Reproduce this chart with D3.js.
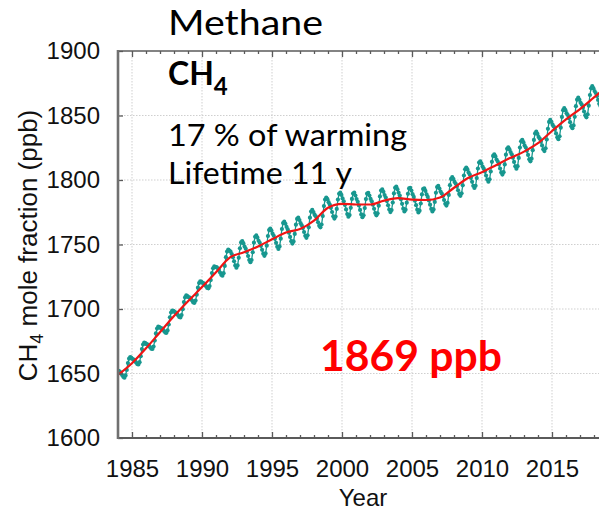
<!DOCTYPE html>
<html>
<head>
<meta charset="utf-8">
<script src="https://cdn.jsdelivr.net/npm/d3@7"></script>
<style>
  html, body { margin: 0; padding: 0; background: #fff; }
  svg { display: block; }
</style>
</head>
<body>
<svg id="chart" width="599" height="512"></svg>
<script>
// Global mean CH4 mole fraction, monthly means (ppb), January 1984 onwards
const firstYear = 1984;
const monthlyCH4 = [
  1652.1, 1651.5, 1650.4, 1648.9, 1647.4, 1646.8, 1648.5, 1652.8, 1658.1, 1661.5, 1662.8, 1662.1,
  1661.2, 1660.8, 1659.9, 1658.6, 1657.3, 1657.0, 1658.8, 1663.4, 1668.9, 1672.5, 1674.0, 1673.5,
  1672.7, 1672.5, 1671.6, 1670.4, 1669.2, 1669.0, 1670.9, 1675.5, 1681.1, 1684.8, 1686.3, 1686.0,
  1685.2, 1685.0, 1684.1, 1682.9, 1681.7, 1681.5, 1683.4, 1688.0, 1693.6, 1697.3, 1698.8, 1698.5,
  1697.7, 1697.3, 1696.4, 1695.1, 1693.8, 1693.5, 1695.3, 1699.9, 1705.4, 1709.0, 1710.5, 1710.0,
  1709.1, 1708.8, 1707.8, 1706.5, 1705.1, 1704.8, 1706.5, 1711.1, 1716.5, 1720.1, 1721.5, 1721.1,
  1720.2, 1719.8, 1718.9, 1717.6, 1716.3, 1716.0, 1717.8, 1722.4, 1727.9, 1731.5, 1733.0, 1732.5,
  1732.5, 1731.6, 1730.3, 1728.3, 1726.5, 1725.8, 1727.8, 1733.4, 1740.2, 1744.5, 1746.1, 1745.3,
  1744.4, 1742.6, 1740.1, 1737.0, 1733.8, 1732.0, 1733.8, 1739.7, 1747.0, 1751.6, 1752.6, 1750.8,
  1748.4, 1746.7, 1744.2, 1741.1, 1738.0, 1736.3, 1738.0, 1744.0, 1751.4, 1756.0, 1757.0, 1755.3,
  1752.9, 1751.3, 1749.0, 1745.9, 1742.9, 1741.2, 1743.1, 1749.1, 1756.6, 1761.2, 1762.4, 1760.8,
  1758.4, 1756.8, 1754.4, 1751.3, 1748.3, 1746.6, 1748.5, 1754.5, 1762.0, 1766.6, 1767.7, 1766.1,
  1763.6, 1761.7, 1759.2, 1755.9, 1752.6, 1750.7, 1752.4, 1758.2, 1765.4, 1769.8, 1770.8, 1768.9,
  1766.5, 1764.9, 1762.7, 1759.7, 1756.7, 1755.2, 1757.1, 1763.3, 1770.8, 1775.5, 1776.8, 1775.2,
  1773.1, 1771.9, 1769.9, 1767.2, 1764.6, 1763.3, 1765.5, 1772.0, 1779.8, 1784.8, 1786.4, 1785.1,
  1782.8, 1781.0, 1778.4, 1775.2, 1771.9, 1770.1, 1771.7, 1777.6, 1784.8, 1789.3, 1790.2, 1788.4,
  1785.7, 1783.5, 1780.7, 1777.2, 1773.6, 1771.5, 1772.8, 1778.4, 1785.3, 1789.5, 1790.2, 1788.0,
  1785.2, 1783.1, 1780.3, 1776.8, 1773.3, 1771.2, 1772.6, 1778.2, 1785.2, 1789.4, 1790.1, 1788.0,
  1785.3, 1783.5, 1780.9, 1777.7, 1774.4, 1772.6, 1774.2, 1780.1, 1787.3, 1791.8, 1792.7, 1790.9,
  1788.3, 1786.4, 1783.7, 1780.4, 1777.1, 1775.1, 1776.7, 1782.5, 1789.6, 1794.0, 1794.9, 1792.9,
  1790.2, 1787.9, 1785.0, 1781.5, 1777.8, 1775.6, 1777.0, 1782.4, 1789.3, 1793.5, 1794.0, 1791.8,
  1789.0, 1786.9, 1784.0, 1780.5, 1777.0, 1774.9, 1776.2, 1781.8, 1788.8, 1793.0, 1793.6, 1791.5,
  1788.8, 1786.9, 1784.2, 1780.9, 1777.6, 1775.6, 1777.2, 1783.0, 1790.1, 1794.5, 1795.4, 1793.4,
  1791.0, 1789.5, 1787.4, 1784.5, 1781.6, 1780.2, 1782.2, 1788.4, 1796.0, 1800.8, 1802.2, 1800.7,
  1798.5, 1797.0, 1794.9, 1792.0, 1789.1, 1787.7, 1789.7, 1795.9, 1803.5, 1808.3, 1809.7, 1808.2,
  1805.9, 1804.2, 1801.7, 1798.6, 1795.5, 1793.8, 1795.5, 1801.5, 1808.9, 1813.5, 1814.5, 1812.8,
  1810.4, 1808.8, 1806.5, 1803.4, 1800.4, 1798.7, 1800.6, 1806.6, 1814.1, 1818.7, 1819.9, 1818.3,
  1815.9, 1814.3, 1812.0, 1808.9, 1805.9, 1804.2, 1806.1, 1812.1, 1819.6, 1824.2, 1825.4, 1823.8,
  1821.7, 1819.9, 1817.3, 1814.0, 1810.6, 1808.8, 1810.7, 1817.1, 1825.1, 1830.0, 1831.2, 1829.3,
  1826.8, 1825.1, 1822.6, 1819.4, 1816.1, 1814.5, 1816.5, 1823.1, 1831.1, 1836.1, 1837.5, 1835.7,
  1833.4, 1832.0, 1829.7, 1826.8, 1823.8, 1822.4, 1824.6, 1831.4, 1839.7, 1845.0, 1846.6, 1845.1,
  1842.9, 1841.4, 1839.1, 1836.1, 1833.1, 1831.6, 1833.9, 1840.6, 1848.9, 1854.1, 1855.7, 1854.1,
  1851.8, 1850.3, 1847.9, 1844.8, 1841.7, 1840.2, 1842.3, 1849.0, 1857.2, 1862.3, 1863.8, 1862.2,
  1859.9, 1858.4, 1856.1, 1853.1, 1850.1, 1848.6, 1850.9, 1857.6, 1865.9, 1871.1, 1872.7, 1871.1,
  1868.9, 1867.4, 1865.1, 1862.1, 1859.1, 1857.6, 1859.9, 1866.6, 1874.9, 1880.1, 1881.7, 1880.1
];

// De-seasonalised trend (ppb) at the start of each year
const trendYears = [1984, 1985, 1986, 1987, 1988, 1989, 1990, 1991, 1992, 1993, 1994, 1995,
  1996, 1997, 1998, 1999, 2000, 2001, 2002, 2003, 2004, 2005, 2006, 2007, 2008, 2009, 2010,
  2011, 2012, 2013, 2014, 2015, 2016, 2017, 2018, 2019];
const trendValues = [1649, 1658, 1669.5, 1682, 1694.5, 1706, 1717, 1728.5, 1740, 1744, 1748.5, 1754,
  1759.3, 1762, 1768.5, 1778.5, 1781.5, 1781, 1781, 1784, 1786, 1784.8, 1784.5, 1786.5, 1794, 1801.5, 1806,
  1811.5, 1817, 1822, 1828.5, 1838, 1847, 1855, 1864, 1873];

const xTicks = [1985, 1990, 1995, 2000, 2005, 2010, 2015];
const xMinorTicks = [1986, 1987, 1988, 1989, 1991, 1992, 1993, 1994, 1996, 1997, 1998, 1999,
  2001, 2002, 2003, 2004, 2006, 2007, 2008, 2009, 2011, 2012, 2013, 2014, 2016, 2017, 2018];
const yTicks = [1600, 1650, 1700, 1750, 1800, 1850, 1900];
const yGrid = [1650, 1700, 1750, 1800, 1850];

const svg = d3.select("#chart");
svg.append("rect").attr("width", 599).attr("height", 512).attr("fill", "#fff");

const plotLeft = 118, plotRight = 608, plotTop = 51, plotBottom = 438;
const x = d3.scaleLinear().domain([1984, 2019]).range([plotLeft, plotRight]);
const y = d3.scaleLinear().domain([1600, 1900]).range([plotBottom, plotTop]);

const tickFont = "'Liberation Sans', Arial, Helvetica, sans-serif";
const textFont = "Lato, Carlito, Calibri, 'Open Sans', sans-serif";
const axisColor = "#5a5a5a";

// dotted grid
const grid = svg.append("g").attr("stroke", "#cfcfcf").attr("stroke-width", 1)
  .attr("stroke-dasharray", "1.5,1.5");
grid.selectAll("line.v").data(xTicks).join("line").attr("class", "v")
  .attr("x1", d => x(d)).attr("x2", d => x(d))
  .attr("y1", plotTop).attr("y2", plotBottom);
grid.selectAll("line.h").data(yGrid).join("line").attr("class", "h")
  .attr("x1", plotLeft).attr("x2", plotRight)
  .attr("y1", d => y(d)).attr("y2", d => y(d));

// clip for data
svg.append("clipPath").attr("id", "plotClip").append("rect")
  .attr("x", plotLeft).attr("y", plotTop)
  .attr("width", plotRight - plotLeft).attr("height", plotBottom - plotTop);

const monthly = monthlyCH4.map((v, i) => ({ t: firstYear + (i + 0.5) / 12, v }));
const trend = trendYears.map((t, i) => ({ t, v: trendValues[i] }));

const dataG = svg.append("g").attr("clip-path", "url(#plotClip)");
const teal = "#17978f";
dataG.append("path")
  .datum(monthly)
  .attr("fill", "none").attr("stroke", teal).attr("stroke-width", 1.3)
  .attr("d", d3.line().x(d => x(d.t)).y(d => y(d.v)));
dataG.selectAll("circle").data(monthly).join("circle")
  .attr("cx", d => x(d.t)).attr("cy", d => y(d.v)).attr("r", 2.1)
  .attr("fill", teal);
dataG.append("path")
  .datum(trend)
  .attr("fill", "none").attr("stroke", "#f01414").attr("stroke-width", 2.2)
  .attr("d", d3.line().curve(d3.curveMonotoneX).x(d => x(d.t)).y(d => y(d.v)));

// frame and axes
function styleAxis(g) {
  g.select(".domain").remove();
  g.selectAll(".tick line").attr("stroke", axisColor).attr("stroke-width", 1.3);
  g.selectAll(".tick text").attr("fill", "#111").attr("font-family", tickFont).attr("font-size", 24);
}

svg.append("g").attr("transform", `translate(0,${plotBottom})`)
  .call(d3.axisBottom(x).tickValues(xTicks).tickFormat(d3.format("d"))
    .tickSizeInner(-6).tickSizeOuter(0).tickPadding(22))
  .call(styleAxis);
svg.append("g").attr("transform", `translate(0,${plotBottom})`)
  .call(d3.axisBottom(x).tickValues(xMinorTicks).tickFormat("")
    .tickSizeInner(-3).tickSizeOuter(0))
  .call(styleAxis);
svg.append("g").attr("transform", `translate(0,${plotTop})`)
  .call(d3.axisTop(x).tickValues(xTicks).tickFormat("")
    .tickSizeInner(-6).tickSizeOuter(0))
  .call(styleAxis);
svg.append("g").attr("transform", `translate(0,${plotTop})`)
  .call(d3.axisTop(x).tickValues(xMinorTicks).tickFormat("")
    .tickSizeInner(-3).tickSizeOuter(0))
  .call(styleAxis);
svg.append("g").attr("transform", `translate(${plotLeft},0)`)
  .call(d3.axisLeft(y).tickValues(yTicks).tickFormat(d3.format("d"))
    .tickSizeInner(-5).tickSizeOuter(0).tickPadding(18))
  .call(styleAxis);

const frame = svg.append("g").attr("fill", "none");
frame.append("line").attr("x1", plotLeft).attr("x2", plotRight).attr("y1", plotTop).attr("y2", plotTop)
  .attr("stroke", axisColor).attr("stroke-width", 1.5);
frame.append("line").attr("x1", plotLeft).attr("x2", plotRight).attr("y1", plotBottom).attr("y2", plotBottom)
  .attr("stroke", axisColor).attr("stroke-width", 2);
frame.append("line").attr("x1", plotLeft).attr("x2", plotLeft).attr("y1", plotTop - 1).attr("y2", plotBottom + 1)
  .attr("stroke", "#707070").attr("stroke-width", 2.6);

// axis titles
svg.append("text")
  .attr("x", (plotLeft + plotRight) / 2).attr("y", 506)
  .attr("text-anchor", "middle").attr("font-family", tickFont).attr("font-size", 24)
  .attr("fill", "#111").text("Year");

const yTitle = svg.append("text")
  .attr("transform", `translate(37,${(plotTop + plotBottom) / 2 + 1}) rotate(-90)`)
  .attr("text-anchor", "middle").attr("font-family", tickFont).attr("font-size", 26)
  .attr("fill", "#111");
yTitle.append("tspan").text("CH");
yTitle.append("tspan").attr("font-size", 18).attr("dy", 6).text("4");
yTitle.append("tspan").attr("dy", -6).text(" mole fraction (ppb)");

// annotations
svg.append("text").attr("x", 168).attr("y", 35)
  .attr("font-family", textFont).attr("font-size", 35).attr("fill", "#000")
  .attr("textLength", 155).attr("lengthAdjust", "spacingAndGlyphs").text("Methane");

const ch4 = svg.append("text").attr("x", 168).attr("y", 85)
  .attr("font-family", textFont).attr("font-size", 32).attr("font-weight", "bold").attr("fill", "#000");
ch4.append("tspan").text("CH");
ch4.append("tspan").attr("font-size", 24).attr("dy", 10).text("4");

svg.append("text").attr("x", 168).attr("y", 146)
  .attr("font-family", textFont).attr("font-size", 31).attr("fill", "#000")
  .attr("textLength", 239).attr("lengthAdjust", "spacingAndGlyphs").text("17 % of warming");
svg.append("text").attr("x", 168).attr("y", 184)
  .attr("font-family", textFont).attr("font-size", 31).attr("fill", "#000")
  .attr("textLength", 184).attr("lengthAdjust", "spacingAndGlyphs").text("Lifetime 11 y");

svg.append("text").attr("x", 320).attr("y", 371)
  .attr("font-family", textFont).attr("font-size", 42).attr("font-weight", "bold").attr("fill", "#ff0000")
  .attr("textLength", 182).attr("lengthAdjust", "spacingAndGlyphs").text("1869 ppb");
</script>
</body>
</html>
